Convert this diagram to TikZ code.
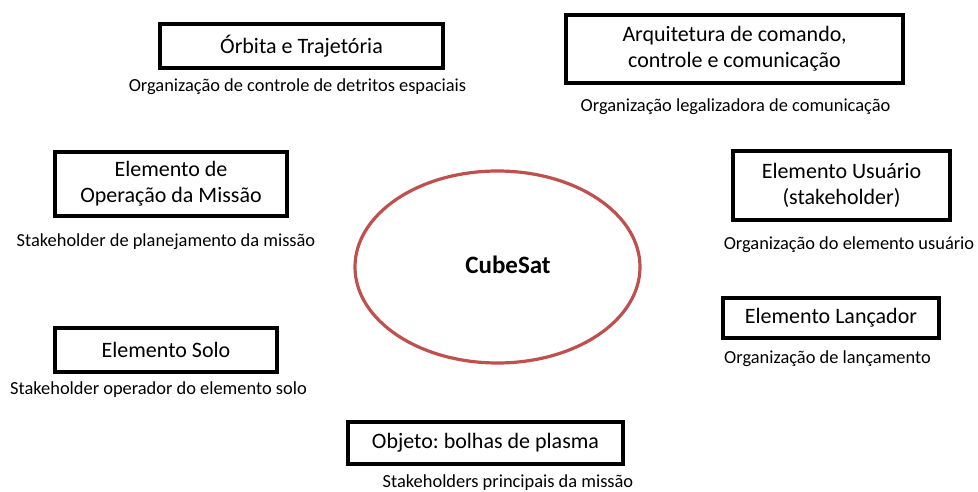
\documentclass[tikz,border=0pt]{standalone}
\usepackage{fontspec}
\setmainfont{Carlito}
\frenchspacing
\usetikzlibrary{shapes.geometric}
\definecolor{ovalred}{HTML}{C0504D}
\tikzset{
  boxnode/.style={draw=black, line width=3.2pt, inner sep=0pt, align=center, font=\fontsize{22}{26}\selectfont},
  subnode/.style={inner sep=0pt, font=\fontsize{18.4}{22}\selectfont},
}
\begin{document}
\begin{tikzpicture}[x=1pt,y=-1pt]
\useasboundingbox (0,0) rectangle (978,492);
\node[ellipse, draw=ovalred, line width=3.2pt, minimum width=285pt, minimum height=192pt, inner sep=0pt] (oval) at (497.5,267) {};
\node[font=\bfseries\fontsize{25}{30}\selectfont, inner sep=0pt] (cube) at (508,265) {CubeSat};

\node[boxnode, minimum width=283pt, minimum height=44pt] (orb) at (301.5,46) {Órbita e Trajetória};
\node[subnode] (orbs) at (297.5,87) {Organização de controle de detritos espaciais};

\node[boxnode, minimum width=337pt, minimum height=68pt] (arq) at (734.5,49) {Arquitetura de comando,\\controle e comunicação};
\node[subnode] (arqs) at (735.5,107) {Organização legalizadora de comunicação};

\node[boxnode, minimum width=232pt, minimum height=64pt] (ope) at (171,184) {Elemento de\\Operação da Missão};
\node[subnode] (opes) at (166,242) {Stakeholder de planejamento da missão};

\node[boxnode, minimum width=217pt, minimum height=69pt] (usu) at (841.5,185.5) {Elemento Usuário\\(stakeholder)};
\node[subnode] (usus) at (849,245) {Organização do elemento usuário};

\node[boxnode, minimum width=216pt, minimum height=40pt] (lan) at (831,318) {Elemento Lançador};
\node[subnode] (lans) at (827.5,359) {Organização de lançamento};

\node[boxnode, minimum width=222pt, minimum height=44pt] (solo) at (166,350) {Elemento Solo};
\node[subnode] (solos) at (158.5,390) {Stakeholder operador do elemento solo};

\node[boxnode, minimum width=275pt, minimum height=42pt] (obj) at (485.5,443) {Objeto: bolhas de plasma};
\node[subnode] (objs) at (508,483) {Stakeholders principais da missão};
\end{tikzpicture}
\end{document}
